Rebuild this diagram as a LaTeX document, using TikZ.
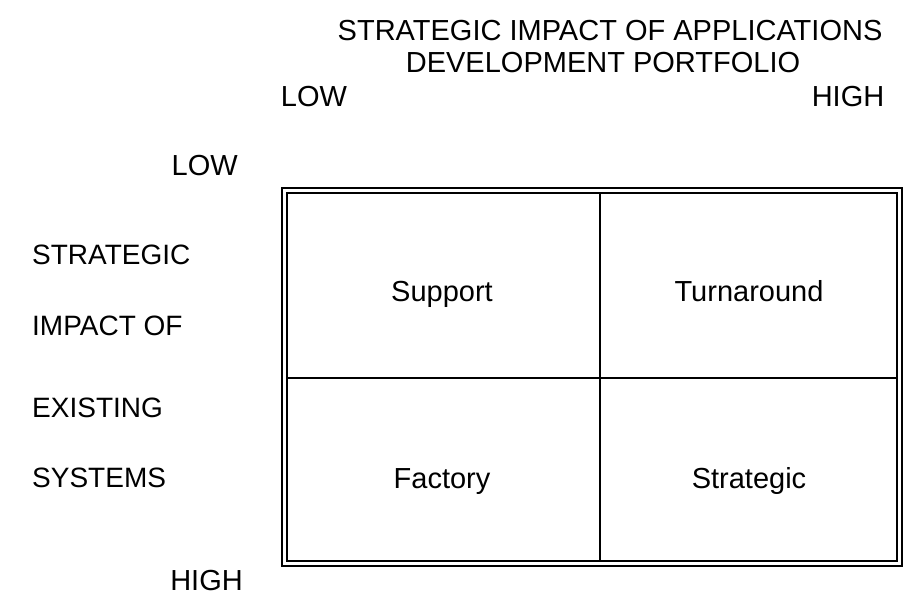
\documentclass[tikz,border=0pt]{standalone}
\usepackage{fontspec}
\setmainfont{Liberation Sans}
\begin{document}
\begin{tikzpicture}[x=1pt,y=-1pt,
  lbl/.style={inner sep=0pt,font=\fontsize{29}{34}\selectfont},
  rowlbl/.style={inner sep=0pt,anchor=west,font=\fontsize{28}{33}\selectfont},
  cell/.style={inner sep=0pt,anchor=base,font=\fontsize{29}{34}\selectfont},
  frame/.style={line width=2pt,draw=black},
  divider/.style={line width=2pt,draw=black}]
\useasboundingbox (0,0) rectangle (907,601);

% column axis heading
\node[lbl] (title1) at (610,31) {STRATEGIC IMPACT OF APPLICATIONS};
\node[lbl] (title2) at (603,63) {DEVELOPMENT PORTFOLIO};
\node[lbl] (colLow) at (314,97) {LOW};
\node[lbl] (colHigh) at (848,97) {HIGH};

% row axis heading
\node[lbl,anchor=east] (rowLow) at (238,166) {LOW};
\node[rowlbl] (r1) at (32,255) {STRATEGIC};
\node[rowlbl] (r2) at (32,326) {IMPACT OF};
\node[rowlbl] (r3) at (32,408) {EXISTING};
\node[rowlbl] (r4) at (32,478) {SYSTEMS};
\node[lbl,anchor=east] (rowHigh) at (243,581) {HIGH};

% double-ruled grid frame
\coordinate (oTL) at (282,188);
\coordinate (oBR) at (902,566);
\coordinate (iTL) at (287,193);
\coordinate (iBR) at (897,561);
\draw[frame] (oTL) rectangle (oBR);
\draw[frame] (iTL) rectangle (iBR);

% quadrant dividers
\coordinate (vTop) at (600,193);
\coordinate (vBot) at (600,561);
\coordinate (hLeft) at (287,378);
\coordinate (hRight) at (897,378);
\draw[divider] (vTop) -- (vBot);
\draw[divider] (hLeft) -- (hRight);

% quadrant labels
\node[cell] (support) at (442,302) {Support};
\node[cell] (turnaround) at (749,302) {Turnaround};
\node[cell] (factory) at (442,488) {Factory};
\node[cell] (strategic) at (749,488) {Strategic};
\end{tikzpicture}
\end{document}
